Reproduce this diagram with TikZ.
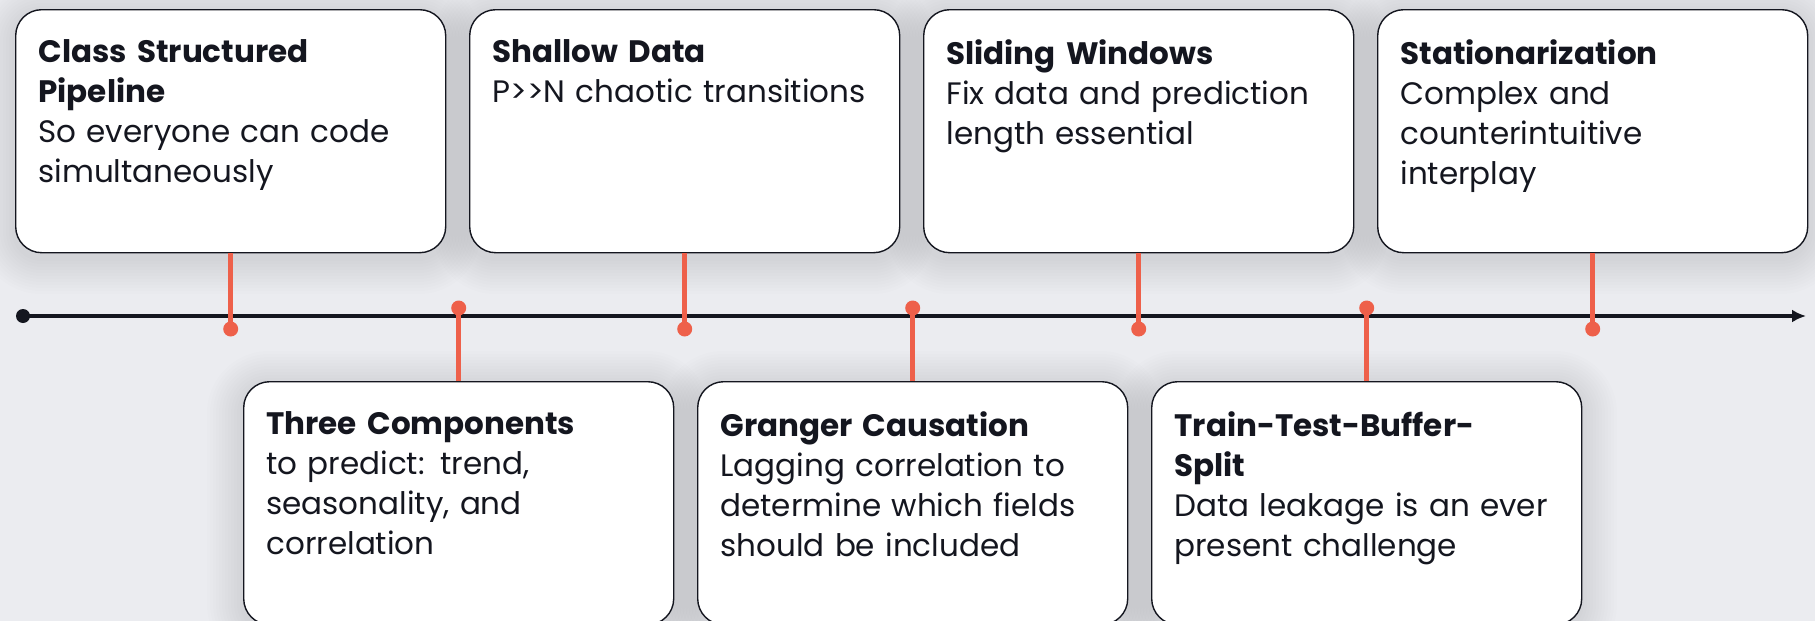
\documentclass[tikz,border=0pt]{standalone}
\usepackage{fontspec}
\setmainfont{Poppins}
\usepackage{tikz}
\usetikzlibrary{arrows.meta}

\definecolor{tlred}{HTML}{EE604A}
\definecolor{tlnavy}{HTML}{14161F}
\definecolor{tlbg}{HTML}{EBECF0}

\tikzset{
	card/.style={draw=tlnavy, line width=0.7pt, fill=white, rounded corners=13pt,
		minimum width=215pt, minimum height=121.5pt, inner sep=0pt, anchor=north west},
	cardshade/.style={fill=black, opacity=0.0075},
	cardtext/.style={anchor=north west, inner sep=0pt, text width=203pt, align=left,
		text=tlnavy, font=\fontsize{15.5pt}{20pt}\selectfont},
	stem/.style={draw=tlred, line width=2.4pt},
	pin/.style={circle, fill=tlred, inner sep=0pt, minimum size=7.5pt},
	startdot/.style={circle, fill=tlnavy, inner sep=0pt, minimum size=7pt},
	axis/.style={draw=tlnavy, line width=2.4pt, -{Latex[length=7pt,width=6.5pt]}}
}

\begin{document}
\begin{tikzpicture}[x=0.5pt, y=-0.5pt]
	\path[use as bounding box, fill=tlbg] (0,0) rectangle (1815,621);

	% soft shadows under the cards
	\foreach \cx/\cy in {15/9,469/9,923/9,1377/9,243/381,697/381,1151/381}
		\foreach \s in {1,...,12}
			\fill[cardshade, rounded corners=13pt+1.5pt*\s]
				(\cx-3*\s,\cy-3*\s+6) rectangle (\cx+430+3*\s,\cy+243+3*\s+6);

	\node[startdot] (start) at (23,316) {};
	\coordinate (end) at (1806,316);
	\draw[axis] (start.center) -- (end);

	\node[card] (c1) at (15,9) {};
	\node[card] (c3) at (469,9) {};
	\node[card] (c5) at (923,9) {};
	\node[card] (c7) at (1377,9) {};
	\node[card] (c2) at (243,381) {};
	\node[card] (c4) at (697,381) {};
	\node[card] (c6) at (1151,381) {};

	\node[pin] (p1) at (c1.south |- 0,329) {};
	\node[pin] (p3) at (c3.south |- 0,329) {};
	\node[pin] (p5) at (c5.south |- 0,329) {};
	\node[pin] (p7) at (c7.south |- 0,329) {};
	\node[pin] (p2) at (c2.north |- 0,308) {};
	\node[pin] (p4) at (c4.north |- 0,308) {};
	\node[pin] (p6) at (c6.north |- 0,308) {};

	\draw[stem] (c1.south) -- (p1.center);
	\draw[stem] (c3.south) -- (p3.center);
	\draw[stem] (c5.south) -- (p5.center);
	\draw[stem] (c7.south) -- (p7.center);
	\draw[stem] (c2.north) -- (p2.center);
	\draw[stem] (c4.north) -- (p4.center);
	\draw[stem] (c6.north) -- (p6.center);

	\node[cardtext] (t1) at ([xshift=11.5pt, yshift=-15pt]c1.north west)
		{{\bfseries Class Structured\\Pipeline}\\So everyone can code\\simultaneously};
	\node[cardtext] (t3) at ([xshift=11.5pt, yshift=-15pt]c3.north west)
		{{\bfseries Shallow Data}\\P>\kern0pt>N chaotic transitions};
	\node[cardtext] (t5) at ([xshift=11.5pt, yshift=-15pt]c5.north west)
		{{\bfseries Sliding Windows}\\Fix data and prediction\\length essential};
	\node[cardtext] (t7) at ([xshift=11.5pt, yshift=-15pt]c7.north west)
		{{\bfseries Stationarization}\\Complex and\\counterintuitive\\interplay};
	\node[cardtext] (t2) at ([xshift=11.5pt, yshift=-15pt]c2.north west)
		{{\bfseries Three Components}\\to predict: trend,\\seasonality, and\\correlation};
	\node[cardtext] (t4) at ([xshift=11.5pt, yshift=-15pt]c4.north west)
		{{\bfseries Granger Causation}\\Lagging correlation to\\determine which fields\\should be included};
	\node[cardtext] (t6) at ([xshift=11.5pt, yshift=-15pt]c6.north west)
		{{\bfseries Train-Test-Buffer-\\Split}\\Data leakage is an ever\\present challenge};
\end{tikzpicture}
\end{document}
